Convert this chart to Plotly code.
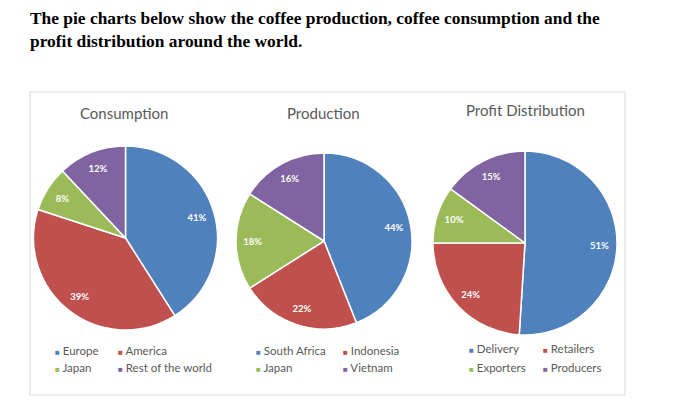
import plotly.graph_objects as go

W, H = 691, 410

# ---- data ----
titles = ["Consumption", "Production", "Profit Distribution"]
consumption_labels = ["Europe", "America", "Japan", "Rest of the world"]
consumption_values = [41, 39, 8, 12]
production_labels = ["South Africa", "Indonesia", "Japan", "Vietnam"]
production_values = [44, 22, 18, 16]
profit_labels = ["Delivery", "Retailers", "Exporters", "Producers"]
profit_values = [51, 24, 10, 15]
colors = ["#4F81BD", "#C0504D", "#9BBB59", "#8064A2"]
heading = ("The pie charts below show the coffee production, coffee consumption and the<br>"
           "profit distribution around the world.")

# ---- layout helpers (pixel geometry) ----
def px(x):
    return x / W

def py(y):
    return 1 - y / H

# pie centre (x, y) and radius in pixels
pie_geom = [(125.5, 238, 92), (324, 241, 88), (525, 243, 92)]
title_pos = [(124, 113), (323, 113), (525, 110)]
legend_cols = [(53, 116), (254, 341), (467, 541)]
legend_rows = [(350, 367), (350, 367), (348, 367)]

datasets = [
    (consumption_labels, consumption_values),
    (production_labels, production_values),
    (profit_labels, profit_values),
]

fig = go.Figure()
annotations = []
for i, (labels, values) in enumerate(datasets):
    cx, cy, r = pie_geom[i]
    dom = dict(x=[px(cx - r), px(cx + r)], y=[py(cy + r), py(cy - r)])
    # coloured slices
    fig.add_trace(go.Pie(
        labels=labels,
        values=values,
        sort=False,
        direction="clockwise",
        rotation=0,
        marker=dict(colors=colors, line=dict(color="white", width=1.5)),
        textinfo="none",
        hoverinfo="label+percent",
        domain=dom,
        showlegend=False,
    ))
    # percentage labels, placed in the outer ring of the same pie
    fig.add_trace(go.Pie(
        labels=labels,
        values=values,
        sort=False,
        direction="clockwise",
        rotation=0,
        hole=0.62,
        marker=dict(colors=["rgba(0,0,0,0)"] * len(values), line=dict(width=0)),
        texttemplate="%{value}%",
        textposition="inside",
        insidetextorientation="horizontal",
        textfont=dict(family="Lato", size=9.5, color="white", weight="bold"),
        hoverinfo="skip",
        domain=dom,
        showlegend=False,
    ))
    tx, ty = title_pos[i]
    annotations.append(dict(
        text=titles[i], x=px(tx), y=py(ty), xref="paper", yref="paper",
        xanchor="center", yanchor="middle", showarrow=False,
        font=dict(family="Lato", size=15, color="#595959"),
    ))
    for j, lab in enumerate(labels):
        col = legend_cols[i][j % 2]
        row = legend_rows[i][j // 2]
        annotations.append(dict(
            text=f"<span style='color:{colors[j]};font-size:8px'>■</span> {lab}",
            x=px(col), y=py(row), xref="paper", yref="paper",
            xanchor="left", yanchor="middle", showarrow=False,
            font=dict(family="Lato", size=11.5, color="#595959"),
        ))

annotations.append(dict(
    text=heading, x=px(28), y=py(6), xref="paper", yref="paper",
    xanchor="left", yanchor="top", align="left", showarrow=False,
    font=dict(family="Liberation Serif", size=17.4, color="black", weight="bold"),
))

fig.update_layout(
    width=W, height=H, autosize=False,
    margin=dict(l=0, r=0, t=0, b=0),
    paper_bgcolor="white", plot_bgcolor="white",
    annotations=annotations,
    shapes=[dict(type="rect", xref="paper", yref="paper",
                 x0=px(30), x1=px(625), y0=py(395), y1=py(92),
                 line=dict(color="#D9D9D9", width=1))],
)

fig.write_html("out.html", config={"displayModeBar": False},
               post_script="document.body.style.margin='0';")
